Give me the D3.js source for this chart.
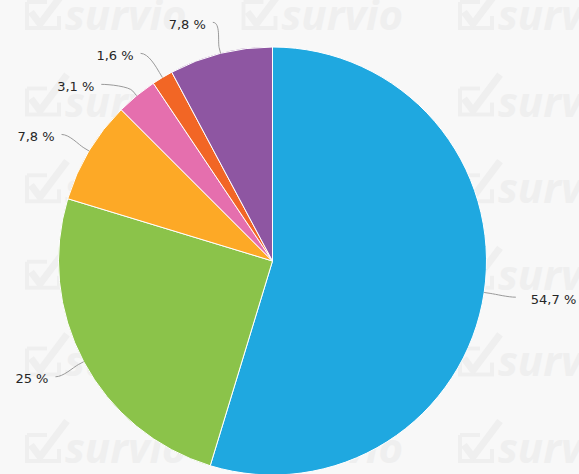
<!DOCTYPE html>
<html lang="en">
<head>
    <meta charset="UTF-8" />
    <title>Survey answers pie</title>
    <script src="https://d3js.org/d3.v7.min.js"></script>
    <style>
        body {
            margin: 0;
            background: #f8f8f8;
        }

        .label {
            font-family: "DejaVu Sans", sans-serif;
            font-size: 13px;
            fill: #262626;
        }

        .connector {
            fill: none;
            stroke: #9a9a9a;
            stroke-width: 1;
        }

        .mark text {
            font-family: "Open Sans", sans-serif;
            font-weight: 700;
            font-style: italic;
            font-size: 42px;
            fill: #efefef;
        }

        .mark path {
            fill: none;
            stroke: #efefef;
        }
    </style>
</head>

<body>
    <div id="chart"></div>

    <script>
        // chart data, clockwise from 12 o'clock
        var categories = ["Answer 1", "Answer 2", "Answer 3", "Answer 4", "Answer 5", "Answer 6"];
        var values = [54.7, 25, 7.8, 3.1, 1.6, 7.8];
        var valueLabels = ["54,7 %", "25 %", "7,8 %", "3,1 %", "1,6 %", "7,8 %"];
        var colors = ["#1fa8e0", "#8bc34a", "#fda926", "#e56fae", "#f26625", "#8e56a2"];

        var w = 579;
        var h = 474;
        var cx = 272.5;
        var cy = 261;
        var r = 214;
        var labelDist = 32;

        var svg = d3.select("#chart")
            .append("svg")
            .attr("width", w)
            .attr("height", h);

        // background watermark
        var marks = svg.append("g").attr("class", "mark");
        for (var i = 0; i < 6; i++) {
            for (var j = 0; j < 3; j++) {
                var mx = 25 + j * 216.5;
                var my = 30 + i * 86.6;
                var g = marks.append("g").attr("transform", "translate(" + mx + "," + my + ")");
                g.append("path")
                    .attr("stroke-width", 4)
                    .attr("d", "M2,-28 H22 M2,-28 V-2 H34 V-14");
                g.append("path")
                    .attr("stroke-width", 7)
                    .attr("stroke-linejoin", "round")
                    .attr("d", "M6,-18 L15,-6 L42,-42");
                g.append("text")
                    .attr("x", 40)
                    .attr("y", 0)
                    .text("survio");
            }
        }

        var pie = d3.pie().sort(null).value(function(d) { return d; });
        var arcs = pie(values);

        var arc = d3.arc().innerRadius(0).outerRadius(r);

        var chart = svg.append("g")
            .attr("transform", "translate(" + cx + "," + cy + ")");

        chart.selectAll("path.slice")
            .data(arcs)
            .enter()
            .append("path")
            .attr("class", "slice")
            .attr("d", arc)
            .attr("fill", function(d, i) { return colors[i]; })
            .attr("stroke", "#ffffff")
            .attr("stroke-width", 1);

        // label positions, pushed apart on each side
        var R = r + labelDist;
        var labels = arcs.map(function(d, i) {
            var mid = (d.startAngle + d.endAngle) / 2;
            return {
                i: i,
                mid: mid,
                right: Math.sin(mid) >= 0,
                y: -R * Math.cos(mid)
            };
        });

        [true, false].forEach(function(side) {
            var group = labels.filter(function(l) { return l.right === side; })
                .sort(function(a, b) { return a.y - b.y; });
            for (var k = 1; k < group.length; k++) {
                if (group[k].y < group[k - 1].y + 31) group[k].y = group[k - 1].y + 31;
            }
        });

        labels.forEach(function(l) {
            var dx = Math.sqrt(Math.max(0, R * R - l.y * l.y));
            l.x = l.right ? dx : -dx;
        });

        chart.selectAll("path.connector")
            .data(labels)
            .enter()
            .append("path")
            .attr("class", "connector")
            .attr("d", function(l) {
                var s = Math.sin(l.mid), c = -Math.cos(l.mid);
                var ex = r * s, ey = r * c;
                var bx = (r + 6) * s, by = (r + 6) * c;
                var hx = l.right ? l.x - 8 : l.x + 8;
                return "M" + l.x + "," + l.y +
                    " C" + hx + "," + l.y + " " + (2 * bx - ex) + "," + (2 * by - ey) + " " + bx + "," + by +
                    " L" + ex + "," + ey;
            });

        chart.selectAll("text.label")
            .data(labels)
            .enter()
            .append("text")
            .attr("class", "label")
            .attr("x", function(l) { return l.right ? l.x + 15 : l.x - 7; })
            .attr("y", function(l) { return l.y + 2; })
            .attr("dy", "0.35em")
            .attr("text-anchor", function(l) { return l.right ? "start" : "end"; })
            .text(function(l) { return valueLabels[l.i]; });
    </script>
</body>
</html>
